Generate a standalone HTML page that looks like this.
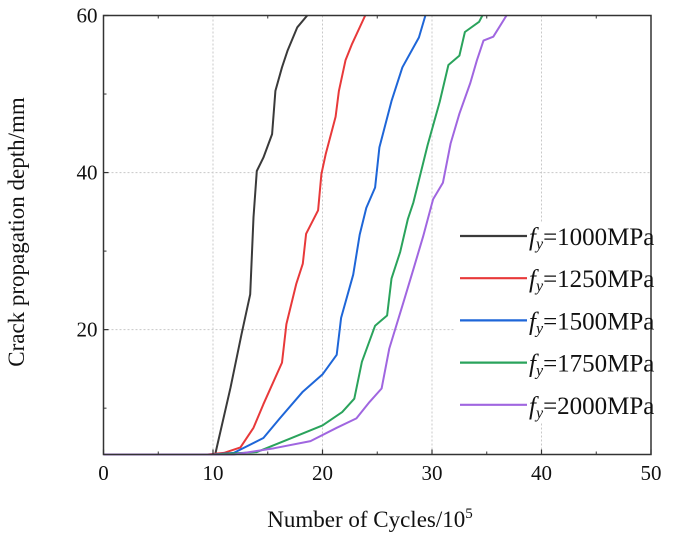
<!DOCTYPE html>
<html><head><meta charset="utf-8"><style>
html,body{margin:0;padding:0;background:#fff;}
svg{display:block;}
text{font-family:"Liberation Serif","Times New Roman",serif;}
</style></head><body>
<svg id="chart" width="685" height="533" viewBox="0 0 685 533" font-family="Liberation Serif, serif">
<g id="grid"></g>
<g id="series"></g>
<g id="legendbg"></g>
<g id="axes"></g>
<g id="legend"></g>
<text x="370" y="527" font-size="23" text-anchor="middle" fill="#111" font-family="Liberation Serif, serif">Number of Cycles/10<tspan dy="-9" font-size="15">5</tspan></text>
<text transform="translate(24,232) rotate(-90)" font-size="23" text-anchor="middle" fill="#111" font-family="Liberation Serif, serif">Crack propagation depth/mm</text>
</svg>
<script>
const xTicks=[0,10,20,30,40,50];
const yTicks=[20,40,60];
const seriesNames=["1000MPa","1250MPa","1500MPa","1750MPa","2000MPa"];
const seriesColors=["#3a3a3a","#e8393a","#1e66d8","#2aa35c","#a066e0"];
const blackX=[0,10.2,10.35,11.6,12.6,13.4,13.7,14.0,14.6,15.4,15.7,16.3,16.8,17.7,18.6];
const blackY=[4.1,4.1,5,12.6,19.4,24.5,34.3,40.2,41.9,44.9,50.4,53.4,55.5,58.5,60];
const redX=[0,9.5,11,12.5,13.7,14.6,16.3,16.7,17.6,18.2,18.5,19.6,19.9,20.3,21.2,21.5,22.1,22.7,23.9];
const redY=[4.1,4.1,4.3,5.0,7.5,10.5,15.8,20.7,25.8,28.4,32.2,35.2,39.8,42.4,47.1,50.4,54.3,56.4,60];
const blueX=[0,10,11.9,14.6,16.1,18.2,20.0,21.3,21.7,22.8,23.4,24.0,24.8,25.2,26.3,27.3,28.8,29.4];
const blueY=[4.1,4.1,4.3,6.2,8.7,12.1,14.3,16.8,21.5,27.0,32.1,35.5,38.1,43.2,49.1,53.4,57.2,60];
const greenX=[0,10,14.0,17.0,20.0,21.8,22.9,23.6,24.8,25.9,26.3,27.1,27.8,28.3,29.0,29.6,30.7,31.5,32.5,33.0,34.3,34.6];
const greenY=[4.1,4.1,4.4,6.1,7.8,9.5,11.2,15.9,20.5,21.8,26.5,29.9,34.1,36.2,40.1,43.5,49.0,53.7,54.9,57.9,59.2,60];
const purpleX=[0,11.9,15.6,18.9,21.3,23.1,24.3,25.4,26.1,27.4,28.3,29.2,30.1,31.0,31.7,32.5,33.5,34.1,34.7,35.6,36.8];
const purpleY=[4.1,4.1,4.9,5.8,7.5,8.7,10.8,12.5,17.6,23.5,27.7,31.9,36.6,38.7,43.7,47.5,51.4,54.3,56.8,57.3,60];
const allX=[blackX,redX,blueX,greenX,purpleX];
const allY=[blackY,redY,blueY,greenY,purpleY];

const L=103.5,R=651,T=15.5,B=454.5,xMin=0,xMax=50,yMin=4.1,yMax=60;
const sx=v=>L+(v-xMin)/(xMax-xMin)*(R-L);
const sy=v=>B-(v-yMin)/(yMax-yMin)*(B-T);
const NS="http://www.w3.org/2000/svg";
const FF="Liberation Serif, serif";
function mk(tag,attrs,parent){const e=document.createElementNS(NS,tag);for(const k in attrs)e.setAttribute(k,attrs[k]);parent.appendChild(e);return e;}
const grid=document.getElementById('grid'),axes=document.getElementById('axes'),ser=document.getElementById('series'),leg=document.getElementById('legend'),legbg=document.getElementById('legendbg');

xTicks.forEach(t=>{
  if(t>xMin&&t<xMax){const g=mk('line',{x1:sx(t),x2:sx(t),y1:T,y2:B,stroke:'#c8c8c8','stroke-dasharray':'2,2','stroke-width':1},grid);
  
  }
  const tk=mk('line',{x1:sx(t),x2:sx(t),y1:B,y2:B-5,stroke:'#333','stroke-width':1.2},axes);
  
  
  const lb=mk('text',{x:sx(t),y:480,'font-size':21,'text-anchor':'middle',fill:'#111','font-family':FF},axes);
  lb.textContent=t;
  
  
});
for(let i=0;i<xTicks.length-1;i++){const m=(xTicks[i]+xTicks[i+1])/2;
  const tk=mk('line',{x1:sx(m),x2:sx(m),y1:B,y2:B-3,stroke:'#333','stroke-width':1},axes);
  
  
  const tk2=mk('line',{x1:sx(m),x2:sx(m),y1:T,y2:T+3,stroke:'#333','stroke-width':1},axes);
  
  }
yTicks.forEach(t=>{
  if(t<yMax){const g=mk('line',{x1:L,x2:R,y1:sy(t),y2:sy(t),stroke:'#c8c8c8','stroke-dasharray':'2,2','stroke-width':1},grid);
  
  }
  const tk=mk('line',{x1:L,x2:L+5,y1:sy(t),y2:sy(t),stroke:'#333','stroke-width':1.2},axes);
  
  
  const lb=mk('text',{x:L-6,y:sy(t)+7,'font-size':21,'text-anchor':'end',fill:'#111','font-family':FF},axes);
  lb.textContent=t;
  
  
});
[10,30,50].forEach(t=>{const tk=mk('line',{x1:L,x2:L+3,y1:sy(t),y2:sy(t),stroke:'#333','stroke-width':1},axes);
  
  });
const fr=mk('rect',{x:L,y:T,width:R-L,height:B-T,fill:'none',stroke:'#333','stroke-width':1.5},axes);



const bg=mk('rect',{x:455,y:222,width:195,height:200,fill:'#fff'},legbg);



allX.forEach((xs,i)=>{
  const pts=xs.map((x,j)=>sx(x).toFixed(1)+','+sy(allY[i][j]).toFixed(1)).join(' ');
  const pl=mk('polyline',{points:pts,fill:'none',stroke:seriesColors[i],'stroke-width':2,'stroke-linejoin':'round'},ser);
  
  
  const yy=236+i*42.2;
  const ll=mk('line',{x1:460,x2:527,y1:yy,y2:yy,stroke:seriesColors[i],'stroke-width':2.2},leg);
  
  
  const tx=mk('text',{x:529,y:yy+9,'font-size':25,fill:'#111','font-family':FF},leg);
  tx.innerHTML='<tspan font-style="italic">f</tspan><tspan font-style="italic" font-size="16" dy="4">y</tspan><tspan dy="-4">='+seriesNames[i]+'</tspan>';
  
  
});
</script>
</body></html>
